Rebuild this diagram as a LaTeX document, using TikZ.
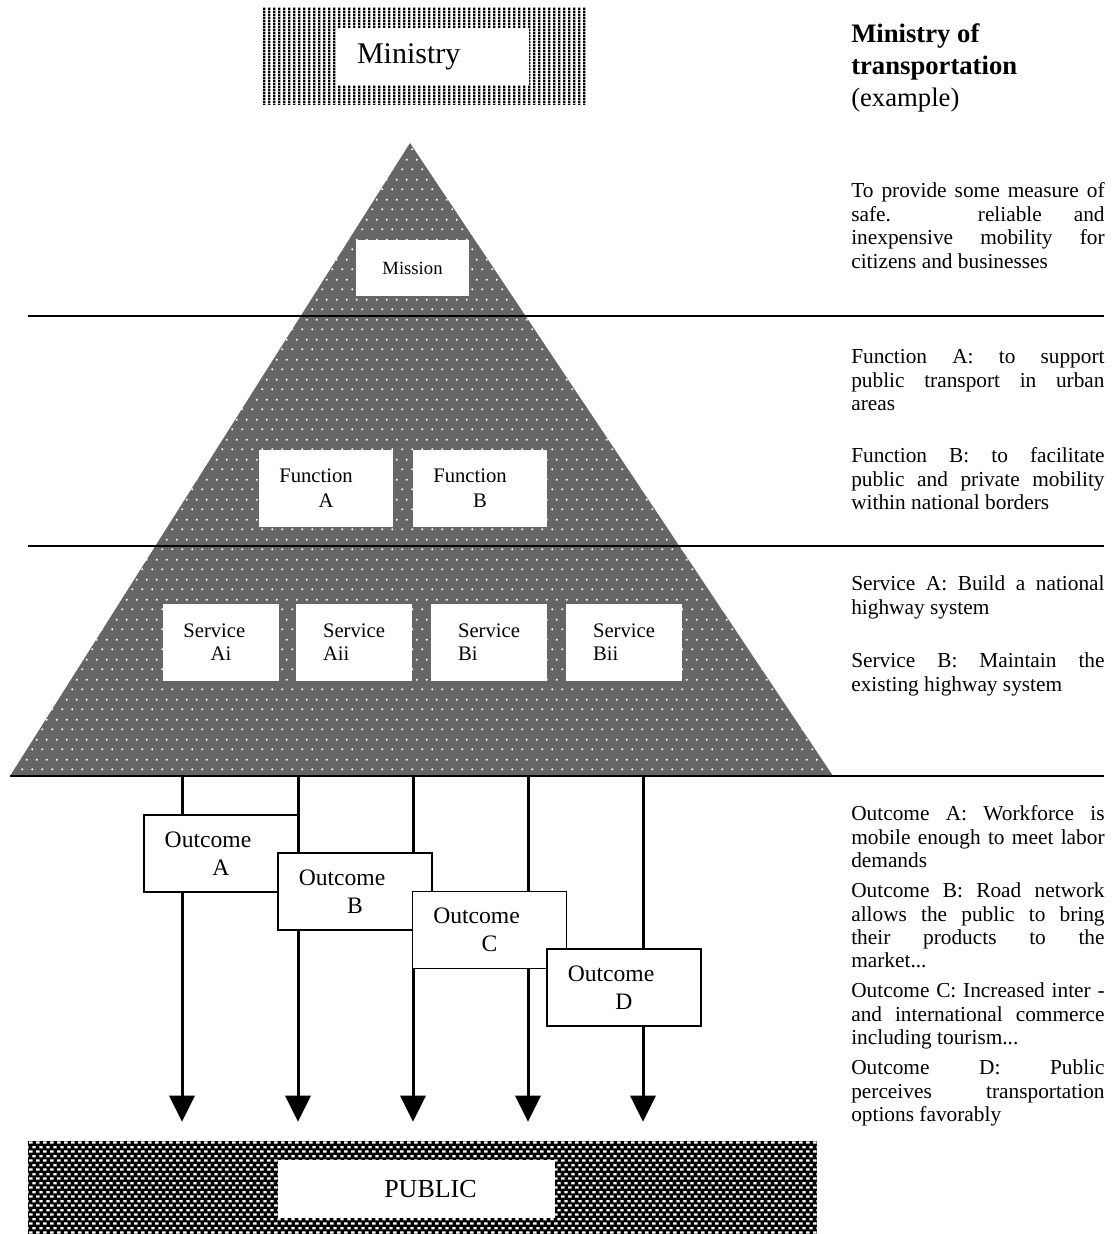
\documentclass[tikz,border=0pt]{standalone}
\usepackage{fontspec}
\setmainfont{Liberation Serif}
\usetikzlibrary{arrows.meta,patterns}

% fill patterns of the three shaded areas
\pgfdeclarepatternformonly{ministrystripes}{\pgfpointorigin}{\pgfqpoint{3.4pt}{2pt}}{\pgfqpoint{3.4pt}{2pt}}{%
  \pgfpathrectangle{\pgfpointorigin}{\pgfqpoint{2pt}{2pt}}\pgfusepath{fill}}
\pgfdeclarepatternformonly{pyramiddots}{\pgfpointorigin}{\pgfqpoint{7.5pt}{15pt}}{\pgfqpoint{7.5pt}{15pt}}{%
  \pgfpathcircle{\pgfqpoint{1.9pt}{3.75pt}}{0.9pt}
  \pgfpathcircle{\pgfqpoint{5.6pt}{11.25pt}}{0.9pt}\pgfusepath{fill}}
\pgfdeclarepatternformonly{publicbricks}{\pgfpointorigin}{\pgfqpoint{5.5pt}{7pt}}{\pgfqpoint{5.5pt}{7pt}}{%
  \pgfpathrectangle{\pgfqpoint{0.1pt}{1pt}}{\pgfqpoint{2.9pt}{1.8pt}}
  \pgfpathrectangle{\pgfqpoint{2.85pt}{4.5pt}}{\pgfqpoint{2.6pt}{1.8pt}}\pgfusepath{fill}}

\newcommand\notefont{\fontsize{16}{17.6}\selectfont}

\begin{document}
\begin{tikzpicture}[x=0.75pt,y=-0.75pt,
  whitebox/.style={fill=white,inner sep=0pt,minimum height=57.75pt},
  funcbox/.style={whitebox,minimum width=100.5pt,align=center,font=\fontsize{15.5}{18.5}\selectfont},
  servbox/.style={whitebox,minimum width=87pt,font=\fontsize{15.5}{17}\selectfont},
  outbox/.style={draw,line width=1.2pt,fill=white,minimum width=115.5pt,minimum height=57.75pt,
    align=center,font=\fontsize{17.7}{21}\selectfont},
  note/.style={anchor=north west,inner sep=0pt,text width=190pt,align=justify,font=\notefont,
    execute at begin node={\tolerance=10000\hbadness=10000}},
  flow/.style={line width=2.25pt,-{Triangle[length=19.5pt,width=18.75pt]},shorten >=14.25pt},
  divider/.style={line width=1.1pt}]
  \useasboundingbox (0,0) rectangle (1114,1234);

  % ministry banner
  \node[pattern=ministrystripes,inner sep=0pt,minimum width=243pt,minimum height=72.75pt] (ministry) at (424,56.5) {};
  \node[fill=white,inner ysep=0pt,inner xsep=15pt,text width=114pt,minimum height=42.75pt,align=left,
    font=\fontsize{22.5}{26}\selectfont] (ministrylabel) at (433,56.5) {Ministry};

  % pyramid
  \fill[black!60,postaction={pattern=pyramiddots,pattern color=white}] (410,143) -- (833,776) -- (10,776) -- cycle;
  \draw[divider] (28,316) -- (1104,316);
  \draw[divider] (28,546) -- (1104,546);
  \draw[line width=0.9pt] (10,776) -- (1104,776);

  \node[whitebox,minimum width=84.75pt,minimum height=42pt,font=\fontsize{14}{16}\selectfont] (mission) at (412.5,268) {Mission};

  \node[funcbox] (funcA) at (326,488) {Function\hspace*{15pt}\\A};
  \node[funcbox] (funcB) at (480,488) {Function\hspace*{15pt}\\B};

  \node[servbox,align=center] (servAi) at (221,642) {Service\hspace*{10pt}\\Ai};
  \node[servbox,align=left] (servAii) at (354,642) {Service\\Aii};
  \node[servbox,align=left] (servBi) at (489,642) {Service\\Bi};
  \node[servbox,align=left] (servBii) at (624,642) {Service\\Bii};

  % public
  \node[fill=black,postaction={pattern=publicbricks,pattern color=white!85},inner sep=0pt,
    minimum width=591.75pt,minimum height=74.25pt] (public) at (422.5,1190.5) {};
  \node[fill=white,inner sep=0pt,minimum width=207.75pt,minimum height=43.5pt,
    font=\fontsize{19.5}{22}\selectfont] (publiclabel) at (416.5,1189) {\hspace*{21pt}PUBLIC};

  % outcome arrows
  \foreach \i/\x in {1/182,2/298,3/413,4/528,5/643}
    \coordinate (base\i) at (\x,776);
  \foreach \i in {1,...,5}
    \draw[flow] (base\i) -- (base\i |- public.north);

  \node[outbox] (outA) at (221,853.5) {Outcome\hspace*{19.5pt}\\A};
  \node[outbox] (outB) at (355,891.5) {Outcome\hspace*{19.5pt}\\B};
  \node[outbox] (outC) at (489.5,930) {Outcome\hspace*{19.5pt}\\C};
  \node[outbox] (outD) at (624,987.5) {Outcome\hspace*{19.5pt}\\D};

  % right column
  \node[anchor=north west,inner sep=0pt,align=left,font=\fontsize{20}{24}\selectfont] (title) at (851,23)
    {\textbf{Ministry of}\\\textbf{transportation}\\(example)};
  \node[note] (missionnote) at (851,182.5) {To provide some measure of\linebreak safe. reliable and\linebreak
    inexpensive mobility for\linebreak citizens and businesses};
  \node[note] (funcAnote) at (851,349.5) {Function A: to support\linebreak public transport in urban\linebreak areas};
  \node[note] (funcBnote) at (851,447.5) {Function B: to facilitate\linebreak public and private mobility\linebreak
    within national borders};
  \node[note] (servAnote) at (851,575.5) {Service A: Build a national\linebreak highway system};
  \node[note] (servBnote) at (851,652.5) {Service B: Maintain the\linebreak existing highway system};
  \node[note] (outAnote) at (851,805.5) {Outcome A: Workforce is\linebreak mobile enough to meet labor\linebreak demands};
  \node[note] (outBnote) at (851,882.5) {Outcome B: Road network\linebreak allows the public to bring\linebreak
    their products to the\linebreak market...};
  \node[note] (outCnote) at (851,982.5) {Outcome C: Increased inter -\linebreak and international commerce\linebreak
    including tourism...};
  \node[note] (outDnote) at (851,1059.5) {Outcome D: Public\linebreak perceives transportation\linebreak options favorably};
\end{tikzpicture}
\end{document}
